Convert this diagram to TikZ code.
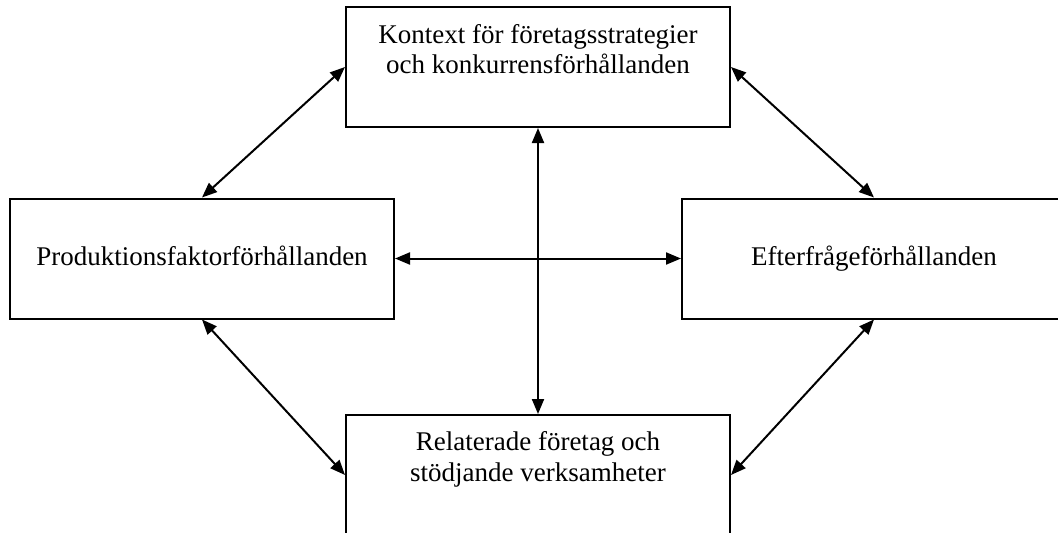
\documentclass[tikz,border=0pt]{standalone}
\usepackage{fontspec}
\setmainfont{Liberation Serif}
\usetikzlibrary{arrows.meta}
\begin{document}
\begin{tikzpicture}[x=1pt,y=-1pt,
  box/.style={draw=black,line width=2pt,minimum width=384pt,minimum height=120pt,inner sep=0pt},
  lbl/.style={font=\fontsize{27}{32}\selectfont,anchor=base,inner sep=0pt},
  conn/.style={line width=2pt,{Triangle[length=15pt,width=12pt]}-{Triangle[length=15pt,width=12pt]}}]
\useasboundingbox (0,0) rectangle (1058,533);
\node[box] (top) at (538,67) {};
\node[box] (left) at (202,258.5) {};
\node[box] (right) at (874,258.5) {};
\node[box] (bot) at (538,475) {};
\node[lbl] (t1) at (538,43) {Kontext för företagsstrategier};
\node[lbl] (t2) at (538,73) {och konkurrensförhållanden};
\node[lbl] (l1) at (202,265) {Produktionsfaktorförhållanden};
\node[lbl] (r1) at (874,265) {Efterfrågeförhållanden};
\node[lbl] (b1) at (538,450) {Relaterade företag och};
\node[lbl] (b2) at (538,481) {stödjande verksamheter};
\draw[conn] (top.west) -- (left.north);
\draw[conn] (top.east) -- (right.north);
\draw[conn] (left.south) -- (bot.west);
\draw[conn] (right.south) -- (bot.east);
\draw[conn] (left.east) -- (right.west);
\draw[conn] (top.south) -- (bot.north);
\end{tikzpicture}
\end{document}
